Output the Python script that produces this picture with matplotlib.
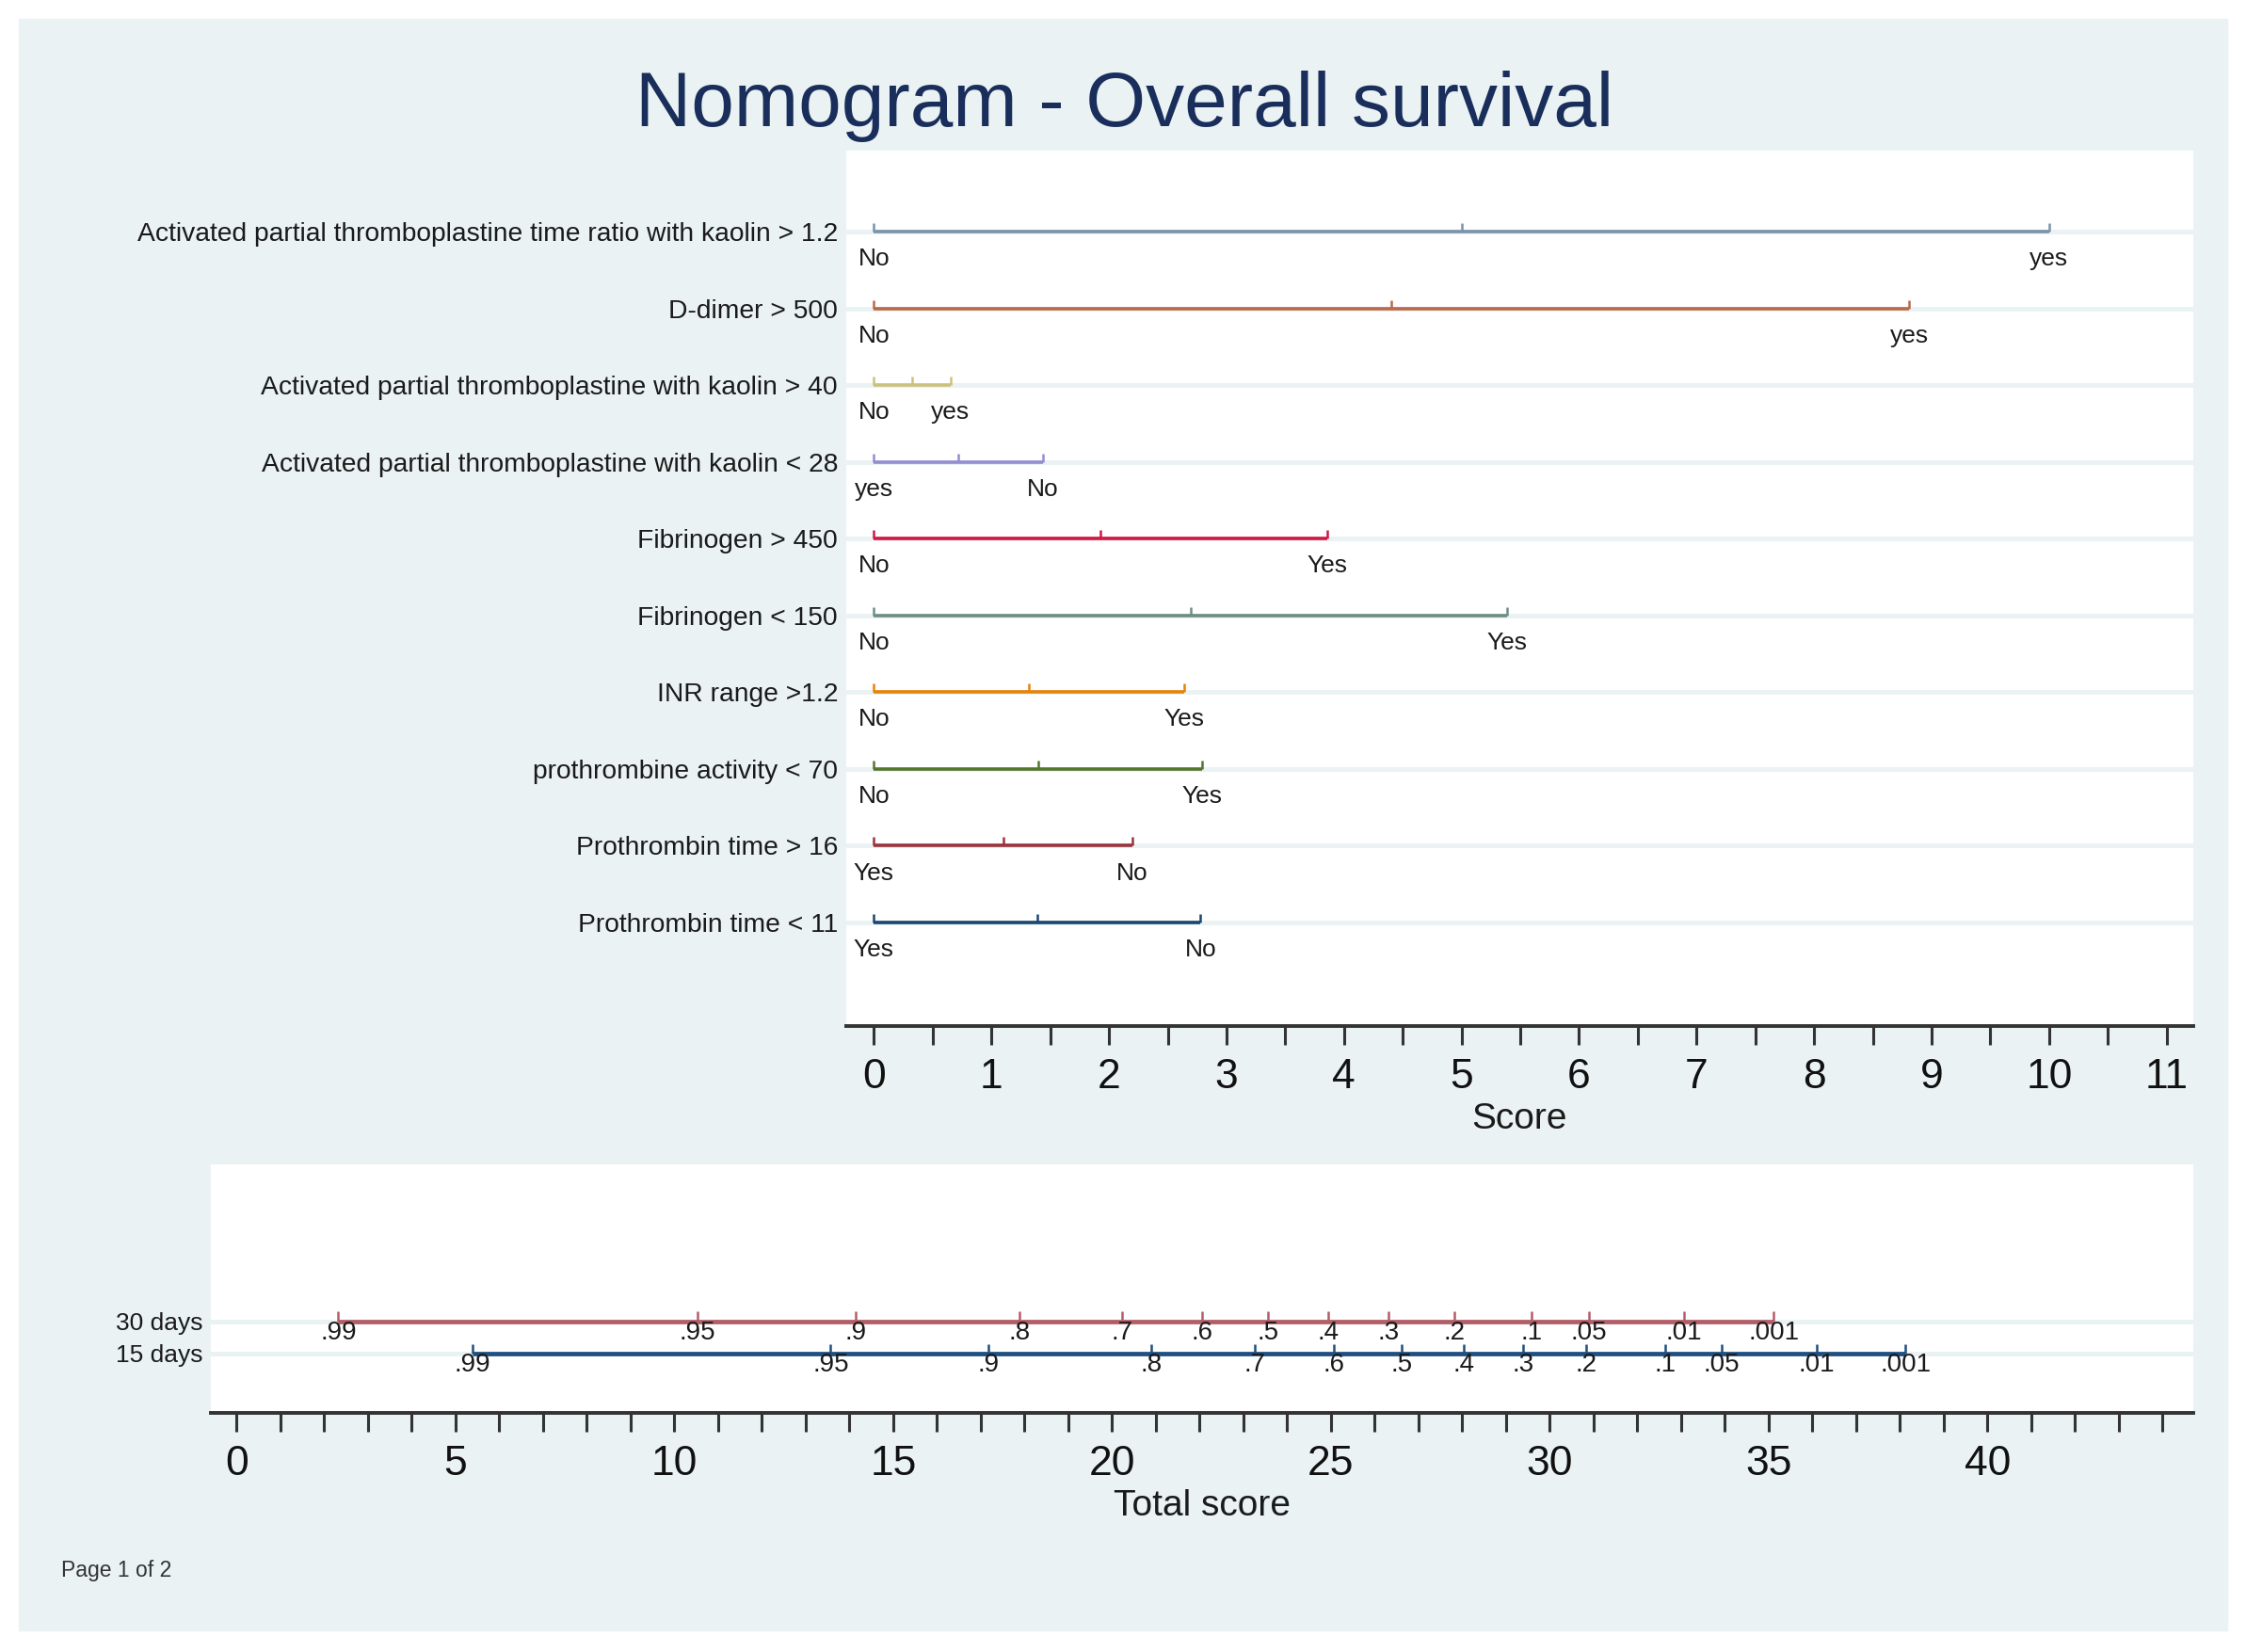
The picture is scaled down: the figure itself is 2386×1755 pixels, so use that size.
import numpy as np
import matplotlib.pyplot as plt
from matplotlib.patches import Rectangle

plt.rcParams['font.family'] = ['Liberation Sans', 'DejaVu Sans']

# Points for each predictor (top panel)
variables = ['Activated partial thromboplastine time ratio with kaolin > 1.2',
             'D-dimer > 500',
             'Activated partial thromboplastine with kaolin > 40',
             'Activated partial thromboplastine with kaolin < 28',
             'Fibrinogen > 450',
             'Fibrinogen < 150',
             'INR range >1.2',
             'prothrombine activity < 70',
             'Prothrombin time > 16',
             'Prothrombin time < 11']
score_max = [10.0, 8.81, 0.65, 1.44, 3.86, 5.39, 2.64, 2.79, 2.2, 2.78]
left_labels = ['No', 'No', 'No', 'yes', 'No', 'No', 'No', 'No', 'Yes', 'Yes']
right_labels = ['yes', 'yes', 'yes', 'No', 'Yes', 'Yes', 'Yes', 'Yes', 'No', 'No']
colors = ['#7b92a8', '#b9694a', '#cac27e', '#938dd2', '#cf1845',
          '#6e8e84', '#e8820a', '#55752f', '#9a343d', '#1a476f']

# Survival probability scales (bottom panel)
groups = ['30 days', '15 days']
prob_labels = ['.99', '.95', '.9', '.8', '.7', '.6', '.5', '.4', '.3', '.2',
               '.1', '.05', '.01', '.001']
total_30 = [2.32, 10.52, 14.14, 17.89, 20.23, 22.05, 23.57, 24.94, 26.31,
            27.81, 29.58, 30.89, 33.06, 35.12]
total_15 = [5.38, 13.57, 17.17, 20.89, 23.27, 25.06, 26.61, 28.03, 29.39,
            30.84, 32.63, 33.92, 36.1, 38.13]
group_colors = ['#b35d67', '#1f4f80']

bg = '#eaf2f3'
axis_col = '#333333'

fig = plt.figure(figsize=(23.86, 17.55), dpi=100, facecolor='white')
fig.patches.append(Rectangle((0.0084, 0.0131), 0.9832, 0.9755,
                             transform=fig.transFigure, color=bg, zorder=-10))

fig.text(0.5008, 1 - 134 / 1755, 'Nomogram - Overall survival',
         ha='center', va='baseline', fontsize=59, color='#1a2e5c')
fig.text(65 / 2386, 1 - 1668 / 1755, 'Page 1 of 2', ha='left', va='center',
         fontsize=16.5, color='#333333')

# ---- top panel ----
ax = fig.add_axes([0.3768, 0.3789, 0.5997, 0.5299])
rows = np.arange(1, len(variables) + 1)
for r, smax, ll, rl, c in zip(rows, score_max, left_labels, right_labels, colors):
    ax.axhline(r, color=bg, lw=3.5, zorder=0)
    ax.plot([0, smax], [r, r], color=c, lw=2.6, solid_capstyle='butt', zorder=3)
    ax.vlines([0, smax / 2, smax], r - 0.11, r, color=c, lw=1.8, zorder=3)
    ax.annotate(ll, (0, r), xytext=(0, -21), textcoords='offset points',
                ha='center', va='center', fontsize=19, color='#1a1a1a')
    ax.annotate(rl, (smax, r), xytext=(0, -21), textcoords='offset points',
                ha='center', va='center', fontsize=19, color='#1a1a1a')

ax.set_xlim(-0.235, 11.226)
ax.set_ylim(11.35, -0.054)
ax.set_yticks(rows)
ax.set_yticklabels(variables, fontsize=20.3, color='#1a1a1a')
ax.tick_params(axis='y', length=0, pad=6.5)
ax.set_xticks(np.arange(0, 12))
ax.set_xticks(np.arange(0.5, 11, 1), minor=True)
ax.tick_params(axis='x', which='both', length=14.5, width=2.2, color=axis_col,
               labelsize=32, pad=10, labelcolor='#111111')
ax.set_xlabel('Score', fontsize=28, labelpad=4, color='#1a1a1a')
for s in ['top', 'left', 'right']:
    ax.spines[s].set_visible(False)
ax.spines['bottom'].set_color(axis_col)
ax.spines['bottom'].set_linewidth(2.8)

# ---- bottom panel ----
ax2 = fig.add_axes([0.0939, 0.1447, 0.8826, 0.1505])
for r, vals, c in zip([1, 2], [total_30, total_15], group_colors):
    ax2.axhline(r, color=bg, lw=3.5, zorder=0)
    ax2.plot([vals[0], vals[-1]], [r, r], color=c, lw=3.4,
             solid_capstyle='butt', zorder=3)
    ax2.vlines(vals, r - 0.3, r, color=c, lw=1.8, zorder=3)
    for v, lab in zip(vals, prob_labels):
        ax2.annotate(lab, (v, r), xytext=(0, -9), textcoords='offset points',
                     ha='center', va='center', fontsize=20, color='#1a1a1a')

ax2.set_xlim(-0.59, 44.7)
ax2.set_ylim(3.85, -3.88)
ax2.set_yticks([1, 2])
ax2.set_yticklabels(groups, fontsize=19, color='#1a1a1a')
ax2.tick_params(axis='y', length=0, pad=6.5)
ax2.set_xticks(np.arange(0, 45, 5))
ax2.set_xticks(np.arange(0, 45, 1), minor=True)
ax2.tick_params(axis='x', which='both', length=14.5, width=2.2, color=axis_col,
                labelsize=32, pad=10, labelcolor='#111111')
ax2.set_xlabel('Total score', fontsize=28, labelpad=4, color='#1a1a1a')
for s in ['top', 'left', 'right']:
    ax2.spines[s].set_visible(False)
ax2.spines['bottom'].set_color(axis_col)
ax2.spines['bottom'].set_linewidth(2.8)

fig.savefig('out.png', dpi=100, facecolor='white')
